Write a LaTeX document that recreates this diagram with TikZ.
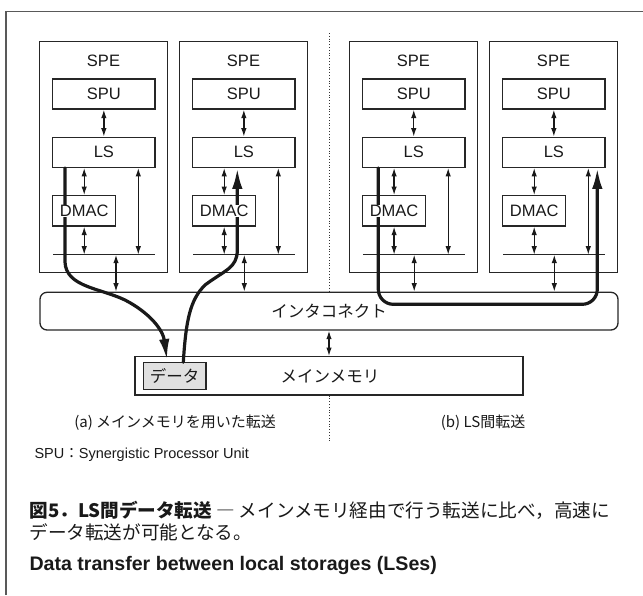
\documentclass[tikz,border=0pt]{standalone}
\usepackage{fontspec}
\setmainfont{Liberation Sans}
\newfontfamily\jp{Noto Sans CJK JP}
\usetikzlibrary{arrows.meta}
\begin{document}
\begin{tikzpicture}[x=1pt,y=-1pt,
  box/.style={draw=black!85, line width=1.3pt, inner sep=0pt},
  lbl/.style={font=\fontsize{16.5}{18}\selectfont, text=black!90},
  jlbl/.style={font=\jp\fontsize{16.5}{18}\selectfont, text=black!90},
  busline/.style={draw=black!85, line width=1.3pt},
  dbl/.style={draw=black!90, line width=1.3pt, {Latex[length=8.5pt,width=5.5pt]}-{Latex[length=8.5pt,width=5.5pt]}},
  thk/.style={draw=black!90, line width=3.2pt, line cap=round},
  bighead/.style={-{Latex[length=21pt,width=10.5pt]}},
  sep/.style={draw=black!80, line width=0.8pt, dotted}
]
\useasboundingbox (0,0) rectangle (643,595);
% outer frame
\draw[black!65, line width=1.2pt] (6,595) -- (6,11.7) -- (643,11.7);

% interconnect and main memory
\node[box, rounded corners=7pt, minimum width=578pt, minimum height=37.7pt, jlbl] (ic) at (329,311.15) {インタコネクト};
\node[box, minimum width=388pt, minimum height=38.3pt] (mm) at (329,375.85) {};
\node[jlbl] (mmt) at (330,376) {メインメモリ};
\node[box, fill=black!12, minimum width=62.7pt, minimum height=27pt, jlbl] (data) at (174.65,375.8) {データ};
\draw[dbl] (ic) -- (mm);

% SPEs
\foreach \L/\bx [count=\i] in {39.3/116, 179.3/244.3, 349.2/414.2, 489.3/554.3} {
  \node[box, minimum width=128.4pt, minimum height=231pt] (spe\i) at (\L+64.2,157.2) {};
  \node[lbl] (spel\i) at (\L+64.2,61) {SPE};
  \node[box, lbl, minimum width=102.3pt, minimum height=30pt] (spu\i) at (\L+64.55,94) {SPU};
  \node[box, lbl, minimum width=102.3pt, minimum height=30pt] (ls\i) at (\L+64.55,152.3) {LS};
  \node[box, minimum width=63pt, minimum height=30.3pt] (dmac\i) at (\L+44.9,210.85) {};
  \coordinate (busl\i) at (\L+13.7,254.7);
  \coordinate (busr\i) at (\L+115.7,254.7);
  \coordinate (lb\i) at (\L+99,254.7);
  \coordinate (bi\i) at (\bx,254.7);
  \draw[busline] (busl\i) -- (busr\i);
  \draw[dbl] (spu\i) -- (ls\i);
  \draw[dbl] (ls\i.south -| dmac\i) -- (dmac\i.north);
  \draw[dbl] (dmac\i.south) -- (dmac\i.south |- busl\i);
  \draw[dbl] (ls\i.south -| lb\i) -- (lb\i);
  \draw[dbl] (bi\i) -- (bi\i |- ic.north);
}

% separator
\coordinate (dtop) at (329.3,33);
\coordinate (dbot) at (329.3,443);
\draw[sep] (dtop) -- (dtop |- ic.north);
\draw[sep] (mm.south -| dbot) -- (dbot);

% (a) transfer via main memory
\coordinate (ta) at (65,262);
\coordinate (tin) at (167,360);
\draw[thk, bighead] (ls1.south -| ta) -- (ta) .. controls (66,287) and (100,288) .. (125,300) .. controls (150,313) and (163,330) .. (tin);
\coordinate (tout) at (183.3,362.3);
\coordinate (tb) at (237.3,250);
\draw[thk, bighead] (tout) .. controls (186,320) and (190,300) .. (205,285) .. controls (225,270) and (237.3,268) .. (tb) -- (ls2.south -| tb);

% (b) LS to LS
\coordinate (b1) at (378.3,304.3);
\coordinate (b2) at (597.3,304.3);
\draw[thk, bighead, rounded corners=15pt] (ls3.south -| b1) -- (b1) -- (b2) -- (ls4.south -| b2);

% DMAC labels on top
\foreach \i in {1,...,4} {
  \node[lbl, fill=white, inner sep=0.3pt] (dmacl\i) at (dmac\i) {DMAC};
}

% captions
\node[font=\jp\fontsize{15}{17}\selectfont, text=black!90] (capa) at (175,422.3) {(a) メインメモリを用いた転送};
\node[font=\jp\fontsize{15}{17}\selectfont, text=black!90] (capb) at (483,422.3) {(b) LS間転送};
\node[anchor=west, font=\fontsize{14.5}{17}\selectfont, text=black!90] (note) at (31,455) {SPU{\jp ：}Synergistic Processor Unit};
\node[anchor=west, font=\jp\fontsize{18.6}{22}\selectfont, text=black!90, inner sep=0pt] (cap1) at (29.3,510) {{\bfseries 図5．LS間データ転送} ― メインメモリ経由で行う転送に比べ，高速に};
\node[anchor=west, font=\jp\fontsize{18.6}{22}\selectfont, text=black!90, inner sep=0pt] (cap2) at (29.3,532) {データ転送が可能となる。};
\node[anchor=west, font=\bfseries\fontsize{19.6}{22}\selectfont, text=black!90, inner sep=0pt] (cap3) at (29.3,565) {Data transfer between local storages (LSes)};
\end{tikzpicture}
\end{document}
